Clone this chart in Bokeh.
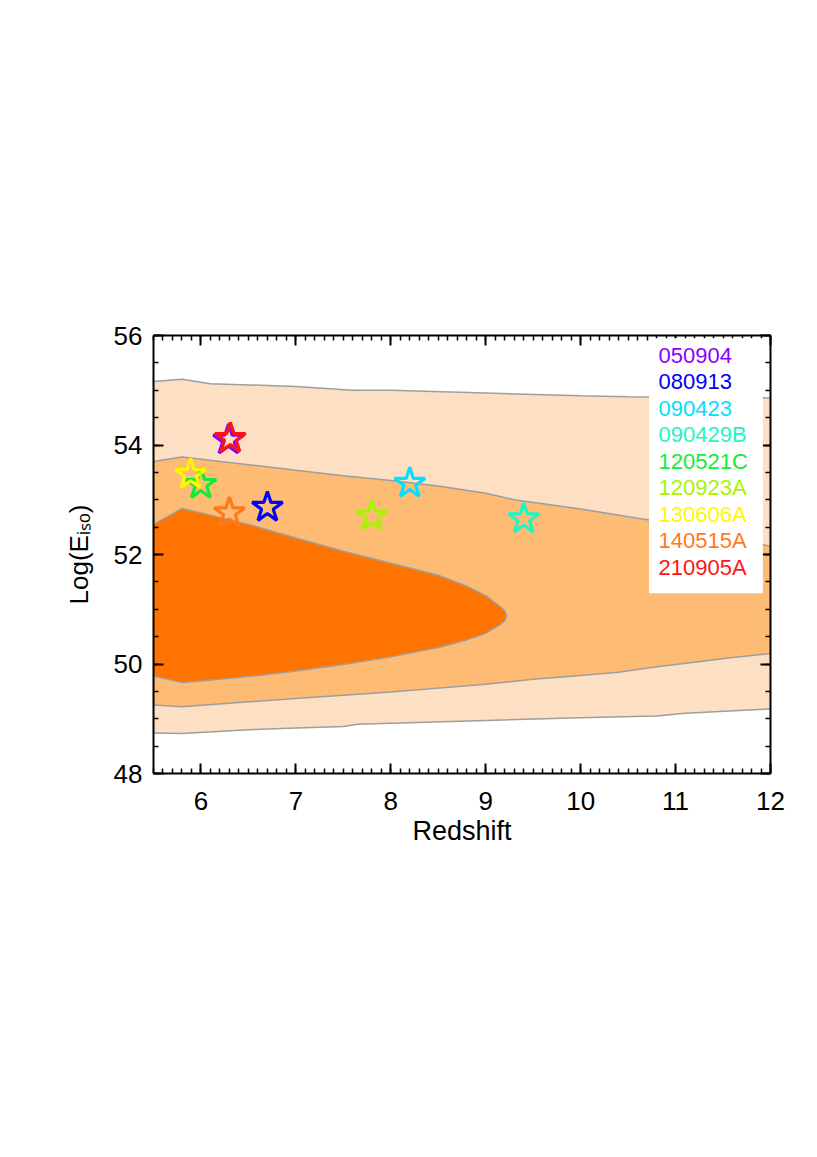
import numpy as np
from bokeh.plotting import figure
from bokeh.models import (Range1d, LinearAxis, SingleIntervalTicker, CustomJSTickFormatter,
                          Label, BoxAnnotation, ColumnDataSource)
from bokeh.embed import file_html
from bokeh.resources import INLINE

# ---------------- data ----------------
grb_names = ["050904", "080913", "090423", "090429B", "120521C",
             "120923A", "130606A", "140515A", "210905A"]
grb_z = [6.29, 6.70, 8.20, 9.40, 6.00, 7.80, 5.89, 6.30, 6.31]
grb_logE = [54.09, 52.86, 53.30, 52.65, 53.28, 52.70, 53.46, 52.76, 54.12]
grb_colors = ["#8A00FF", "#0000FF", "#00E1FF", "#1EF5C3", "#10EC36",
              "#A6F500", "#FFF700", "#FF7A1A", "#FF1414"]

# outer contour (light)
outer_top_z = [5.5, 5.8, 6.1, 7.0, 7.6, 8.0, 9.0, 10.0, 10.5, 11.0, 12.0]
outer_top_E = [55.16, 55.20, 55.12, 55.07, 55.00, 55.00, 54.95, 54.90, 54.88, 54.87, 54.86]
outer_bot_z = [5.5, 5.8, 6.5, 7.0, 7.5, 7.65, 8.0, 9.0, 10.0, 10.8, 11.1, 12.0]
outer_bot_E = [48.74, 48.73, 48.80, 48.83, 48.86, 48.90, 48.92, 48.97, 49.02, 49.05, 49.10, 49.18]

# middle contour
mid_top_z = [5.5, 5.8, 6.5, 7.0, 7.5, 8.0, 8.5, 9.0, 9.3, 10.0, 10.75, 11.3, 12.0]
mid_top_E = [53.70, 53.78, 53.64, 53.54, 53.44, 53.35, 53.25, 53.12, 53.00, 52.83, 52.62, 52.42, 52.15]
mid_bot_z = [5.5, 5.8, 7.0, 7.5, 8.0, 9.0, 9.5, 10.0, 10.4, 10.8, 11.2, 11.6, 12.0]
mid_bot_E = [49.25, 49.22, 49.37, 49.43, 49.49, 49.63, 49.72, 49.79, 49.85, 49.95, 50.03, 50.12, 50.19]

# inner contour (dark)
inner_top_z = [5.5, 5.8, 6.0, 6.5, 7.0, 7.5, 8.0, 8.5, 8.8, 9.0, 9.15, 9.2, 9.22]
inner_top_E = [52.55, 52.84, 52.76, 52.55, 52.30, 52.06, 51.84, 51.62, 51.42, 51.25, 51.05, 50.97, 50.88]
inner_bot_z = [5.5, 5.8, 6.0, 6.5, 7.0, 7.5, 8.0, 8.5, 8.8, 9.0, 9.15, 9.2, 9.22]
inner_bot_E = [49.78, 49.66, 49.69, 49.77, 49.87, 49.99, 50.13, 50.30, 50.44, 50.56, 50.72, 50.79, 50.88]

x_label = "Redshift"
y_label = "Log(E\u1d62\u209b\u2092)"

# ---------------- figure ----------------
FONT = "Liberation Sans"
W, H = 800, 1140
FRAME_L, FRAME_R, FRAME_T, FRAME_B = 153, 770, 335, 773   # page pixels

p = figure(width=W, height=H, output_backend="svg", toolbar_location=None,
           title=None, x_range=Range1d(5.5, 12), y_range=Range1d(48, 56),
           min_border_left=FRAME_L, min_border_right=W - FRAME_R,
           min_border_top=FRAME_T, min_border_bottom=H - FRAME_B,
           x_axis_location=None, y_axis_location=None,
           background_fill_color="white", border_fill_color="white")
p.grid.grid_line_color = None
p.outline_line_color = None


def region(tz, tE, bz, bE):
    xs = list(tz) + list(bz)[::-1]
    ys = list(tE) + list(bE)[::-1]
    return xs, ys


LIGHT, MID, DARK, EDGE = "#FDE0C3", "#FDBB74", "#FF7300", "#9E9E9E"
for (tz, tE, bz, bE), col in [((outer_top_z, outer_top_E, outer_bot_z, outer_bot_E), LIGHT),
                              ((mid_top_z, mid_top_E, mid_bot_z, mid_bot_E), MID),
                              ((inner_top_z, inner_top_E, inner_bot_z, inner_bot_E), DARK)]:
    xs, ys = region(tz, tE, bz, bE)
    p.patch(xs, ys, fill_color=col, line_color=None)

for zz, EE in [(outer_top_z, outer_top_E), (outer_bot_z, outer_bot_E),
               (mid_top_z, mid_top_E), (mid_bot_z, mid_bot_E)]:
    p.line(zz, EE, line_color=EDGE, line_width=1.5)
xs_in, ys_in = region(inner_top_z, inner_top_E, inner_bot_z, inner_bot_E)
p.line(xs_in, ys_in, line_color=EDGE, line_width=1.5)

src = ColumnDataSource(dict(z=grb_z, E=grb_logE, c=grb_colors, n=grb_names))
p.scatter("z", "E", source=src, marker="star", size=32, fill_color=None,
          line_color="c", line_width=3.2)


# ---------------- axes ----------------
def style(ax, show_labels):
    ax.axis_line_width = 2
    ax.axis_line_color = "black"
    ax.major_tick_in = 10
    ax.major_tick_out = 0
    ax.minor_tick_in = 5
    ax.minor_tick_out = 0
    ax.major_tick_line_width = 2
    ax.minor_tick_line_width = 1.5
    ax.major_tick_line_color = "black"
    ax.minor_tick_line_color = "black"
    ax.major_label_text_font = FONT
    ax.major_label_text_font_size = "26px"
    ax.major_label_text_color = "black"
    ax.axis_label_text_font = FONT
    ax.axis_label_text_font_style = "normal"
    ax.axis_label_text_color = "black"
    if not show_labels:
        ax.formatter = CustomJSTickFormatter(code="return ''")
        ax.major_label_text_font_size = "1px"
        ax.major_label_standoff = 0


for loc, show in [("below", True), ("above", False)]:
    ax = LinearAxis(ticker=SingleIntervalTicker(interval=1, num_minor_ticks=10))
    style(ax, show)
    if show:
        ax.major_label_standoff = 18
        ax.axis_label = x_label
        ax.axis_label_text_font_size = "27px"
        ax.axis_label_standoff = 3
    p.add_layout(ax, loc)

for loc, show in [("left", True), ("right", False)]:
    ax = LinearAxis(ticker=SingleIntervalTicker(interval=2, num_minor_ticks=4))
    style(ax, show)
    if show:
        ax.major_label_standoff = 11
        ax.axis_label = y_label
        ax.axis_label_text_font_size = "26px"
        ax.axis_label_standoff = 17
    p.add_layout(ax, loc)

# legend (coloured names in a white box)
p.add_layout(BoxAnnotation(left=10.72, right=11.92, top=55.95, bottom=51.29,
                           fill_color="white", fill_alpha=1.0, line_color=None))
for i, (name, col) in enumerate(zip(grb_names, grb_colors)):
    p.add_layout(Label(x=10.82, y=55.635 - 0.484 * i, text=name, text_font=FONT,
                       text_font_size="22px", text_color=col,
                       text_align="left", text_baseline="middle"))

open("out.html", "w").write(file_html(p, INLINE))
